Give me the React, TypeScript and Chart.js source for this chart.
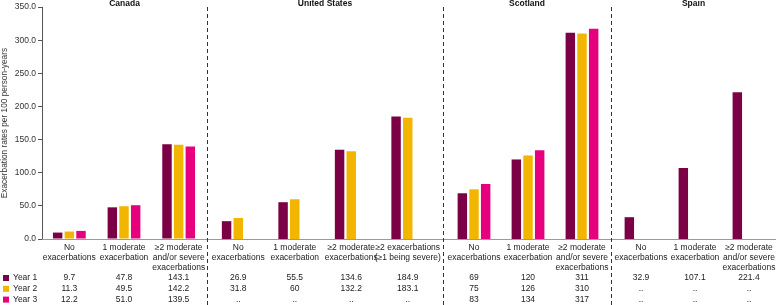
import React, { useEffect, useRef } from "react";
import { Chart, registerables } from "chart.js";

Chart.register(...registerables);

const groupNames = ["Canada", "United States", "Scotland", "Spain"];
const groupSizes = [3, 4, 3, 3];

const categories: string[][] = [
  ["No", "exacerbations"],
  ["1 moderate", "exacerbation"],
  ["≥2 moderate", "and/or severe", "exacerbations"],
  ["No", "exacerbations"],
  ["1 moderate", "exacerbation"],
  ["≥2 moderate", "exacerbations"],
  ["≥2 exacerbations", "(≥1 being severe)"],
  ["No", "exacerbations"],
  ["1 moderate", "exacerbation"],
  ["≥2 moderate", "and/or severe", "exacerbations"],
  ["No", "exacerbations"],
  ["1 moderate", "exacerbation"],
  ["≥2 moderate", "and/or severe", "exacerbations"],
];

const seriesNames = ["Year 1", "Year 2", "Year 3"];

const year1 = [9.7, 47.8, 143.1, 26.9, 55.5, 134.6, 184.9, 69, 120, 311, 32.9, 107.1, 221.4];
const year2 = [11.3, 49.5, 142.2, 31.8, 60, 132.2, 183.1, 75, 126, 310, null, null, null];
const year3 = [12.2, 51.0, 139.5, null, null, null, null, 83, 134, 317, null, null, null];

const year1Labels = ["9.7", "47.8", "143.1", "26.9", "55.5", "134.6", "184.9", "69", "120", "311", "32.9", "107.1", "221.4"];
const year2Labels = ["11.3", "49.5", "142.2", "31.8", "60", "132.2", "183.1", "75", "126", "310", "..", "..", ".."];
const year3Labels = ["12.2", "51.0", "139.5", "..", "..", "..", "..", "83", "134", "317", "..", "..", ".."];

const yTicks = [0, 50, 100, 150, 200, 250, 300, 350];
const yTitle = "Exacerbation rates per 100 person-years";

// ---- layout / style (not data) ----
const seriesColors = ["#7B0046", "#F3B600", "#E6007E"];
const FONT = "'Liberation Sans', Arial, Helvetica, sans-serif";
const panelWidths = [207, 236, 168, 165];
const panelPads = [
  { left: 0, right: 1 },
  { left: 3, right: 7 },
  { left: 4, right: 2 },
  { left: 3, right: 0 },
];
const Y_AXIS_W = 42;
const GROUP_PX = 35;

function makeOverlay(gi: number, startIdx: number) {
  return {
    id: "overlay" + gi,
    afterDraw(chart: any) {
      const ctx = chart.ctx;
      const xs = chart.scales.x;
      const area = chart.chartArea;
      const W = chart.width;
      const H = chart.height;
      const n = groupSizes[gi];
      ctx.save();

      // x axis line
      ctx.strokeStyle = "#9a9a9a";
      ctx.lineWidth = 1;
      ctx.beginPath();
      const ly = Math.round(area.bottom) + 0.5;
      ctx.moveTo(gi === 0 ? area.left : 0, ly);
      ctx.lineTo(W, ly);
      ctx.stroke();

      // divider
      if (gi > 0) {
        ctx.strokeStyle = "#333";
        ctx.setLineDash([4, 3]);
        ctx.beginPath();
        ctx.moveTo(0.5, area.top);
        ctx.lineTo(0.5, H);
        ctx.stroke();
        ctx.setLineDash([]);
      }

      // title
      const tx = gi === 0 ? (area.left + W) / 2 : W / 2;
      ctx.font = `bold 8.5px ${FONT}`;
      ctx.fillStyle = "#111";
      ctx.textAlign = "center";
      ctx.textBaseline = "middle";
      ctx.fillText(groupNames[gi], tx, 4);

      // category labels
      ctx.font = `8.5px ${FONT}`;
      ctx.fillStyle = "#222";
      for (let i = 0; i < n; i++) {
        const px = xs.getPixelForValue(i);
        categories[startIdx + i].forEach((ln, k) => {
          ctx.fillText(ln, px, area.bottom + 8.5 + k * 10);
        });
      }

      // table rows
      const rows = [year1Labels, year2Labels, year3Labels];
      rows.forEach((row, r) => {
        const ry = area.bottom + 39 + r * 10.8;
        if (gi === 0) {
          ctx.fillStyle = seriesColors[r];
          ctx.fillRect(3, ry - 3, 6, 6);
          ctx.fillStyle = "#222";
          ctx.textAlign = "left";
          ctx.fillText(seriesNames[r], 13, ry);
        }
        ctx.fillStyle = "#222";
        ctx.textAlign = "center";
        for (let i = 0; i < n; i++) {
          ctx.fillText(row[startIdx + i], xs.getPixelForValue(i), ry);
        }
      });
      ctx.restore();
    },
  };
}

function Panel({ gi }: { gi: number }) {
  const ref = useRef<HTMLCanvasElement | null>(null);
  const width = panelWidths[gi];
  useEffect(() => {
    const startIdx = groupSizes.slice(0, gi).reduce((a, b) => a + b, 0);
    const n = groupSizes[gi];
    const pad = panelPads[gi];
    const areaW = width - pad.left - pad.right - (gi === 0 ? Y_AXIS_W : 0);
    const catW = areaW / n;
    const slice = (arr: any[]) => arr.slice(startIdx, startIdx + n);
    const chart = new Chart(ref.current!, {
      type: "bar",
      data: {
        labels: slice(categories).map((c: string[]) => c.join(" ")),
        datasets: [year1, year2, year3].map((d, i) => ({
          label: seriesNames[i],
          data: slice(d),
          backgroundColor: seriesColors[i],
          borderWidth: 0,
          categoryPercentage: GROUP_PX / catW,
          barPercentage: 0.81,
        })),
      },
      options: {
        animation: false,
        responsive: false,
        devicePixelRatio: 1,
        layout: { padding: { top: 7, bottom: 66, left: pad.left, right: pad.right } },
        plugins: {
          legend: { display: false },
          tooltip: { enabled: false },
        },
        scales: {
          x: {
            type: "category",
            grid: { display: false },
            border: { display: false },
            ticks: { display: false },
            afterFit: (s: any) => {
              s.height = 0;
            },
          },
          y: {
            display: gi === 0,
            min: yTicks[0],
            max: yTicks[yTicks.length - 1],
            afterBuildTicks: (s: any) => {
              s.ticks = yTicks.map((v) => ({ value: v }));
            },
            ticks: {
              callback: (v: any) => Number(v).toFixed(1),
              font: { size: 8.5, family: FONT },
              color: "#333",
              padding: 2,
            },
            grid: { drawOnChartArea: false, drawTicks: true, tickLength: 4, color: "#555" },
            border: { display: true, color: "#555", width: 1 },
            title: {
              display: true,
              text: yTitle,
              font: { size: 8.3, family: FONT },
              color: "#333",
              padding: 0,
            },
            afterFit: (s: any) => {
              s.width = gi === 0 ? Y_AXIS_W : 0;
            },
          },
        },
      },
      plugins: [makeOverlay(gi, startIdx)],
    });
    return () => chart.destroy();
  }, [gi, width]);
  return <canvas ref={ref} width={width} height={305} style={{ display: "block" }} />;
}

export default function App() {
  useEffect(() => {
    document.body.style.margin = "0";
  }, []);
  return (
    <div style={{ display: "flex", width: 776, height: 305 }}>
      {groupNames.map((_, gi) => (
        <Panel key={gi} gi={gi} />
      ))}
    </div>
  );
}
